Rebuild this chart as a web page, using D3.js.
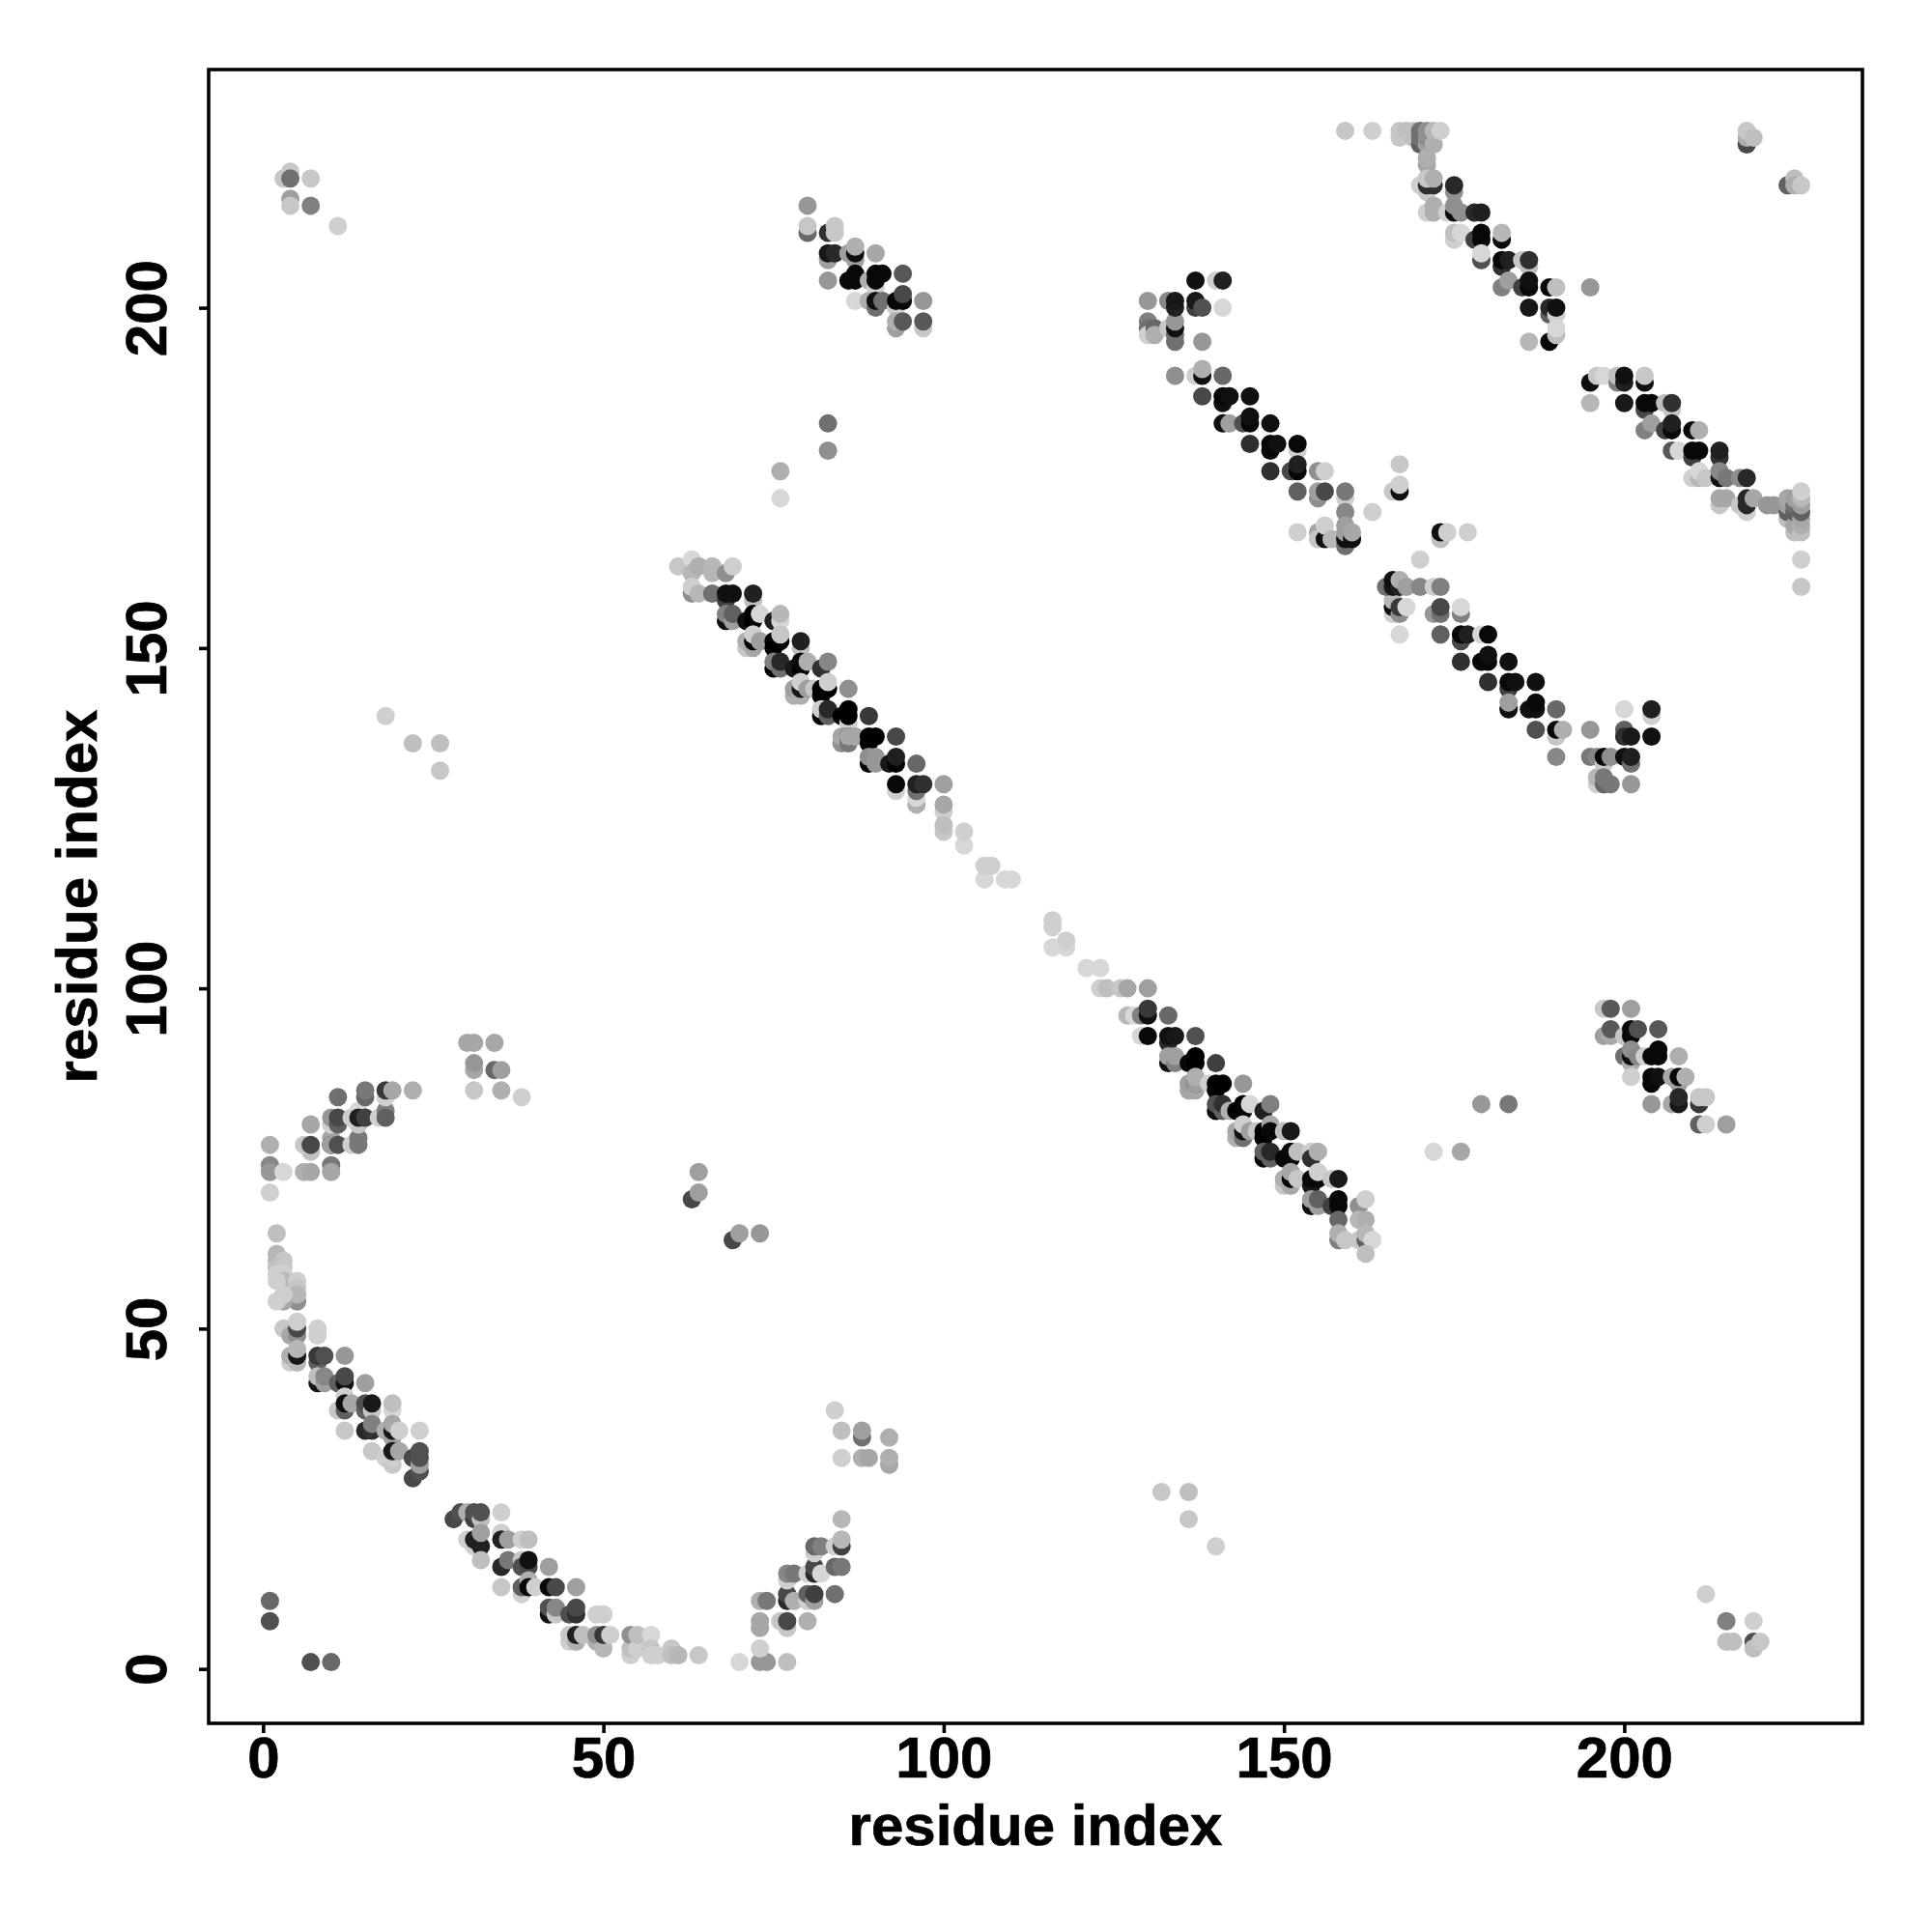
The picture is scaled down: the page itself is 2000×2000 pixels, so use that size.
<!DOCTYPE html>
<html><head><meta charset="utf-8"><title>Residue contact map</title>
<script src="https://cdn.jsdelivr.net/npm/d3@7/dist/d3.min.js"></script>
<style>html,body{margin:0;padding:0;background:#fff}svg{display:block}</style></head><body>
<div id="chart"></div>
<script>
// Every contact: [residue x, residue y, shade level 0 (black) .. 32 (white)]
const cornerTopLeft=[[3,219,25],[4,220,25],[4,219,14],[4,216,20],[4,215,25],[7,219,25],[7,215,16],[11,212,26]];
const sparseTopLeft=[[18,140,26],[22,136,24],[26,136,24],[26,132,25],[76,176,22],[76,172,27],[83,183,14],[83,179,18]];
const arcUpperLeft=[[1,70,26],[1,74,17],[1,73,19],[1,77,22],[10,74,15],[3,73,27],[6,73,22],[7,73,21],[10,73,21],[7,76,24],[6,77,25],[7,77,9],[7,80,21],
[10,78,21],[10,77,4],[10,77,20],[11,77,10],[13,77,26],[14,78,15],[14,77,15],[10,80,26],[10,81,19],[11,80,12],[11,81,9],[14,82,27],[14,80,25],[13,81,26],[14,81,4],[15,81,8],[17,81,26],[18,82,16],[18,81,12],
[11,84,14],[15,84,13],[15,85,15],[18,84,26],[18,85,7],[19,85,21],[22,85,22]];
const sparseMidLeft=[[30,92,21],[31,92,21],[34,92,21],[31,88,21],[31,89,19],[34,88,13],[35,88,20],[31,85,25],[35,85,22],[38,84,26],[64,73,20],[63,69,9],[64,70,20],[69,63,9],[70,64,20],[73,64,19]];
const arcLowerLeft=[[2,64,24],[2,61,23],[2,60,23],[3,60,25],[2,59,24],[3,59,25],[2,58,26],[3,58,26],[3,57,23],[2,57,26],[5,57,26],[5,56,25],[5,54,18],[5,55,23],[3,54,21],[2,54,26],[3,55,26],
[3,50,25],[4,49,21],[5,49,18],[5,50,9],[5,51,26],[8,49,26],[8,50,26],[4,45,26],[4,46,22],[5,45,23],[5,46,3],[5,47,23],[8,45,12],[8,46,7],[9,46,10],[12,46,19],
[8,42,3],[8,43,24],[9,42,20],[9,43,17],[11,42,12],[12,42,2],[12,43,9],[15,42,20],[12,40,26],[11,38,25],[12,38,12],[12,39,2],[13,39,21],[15,38,12],[15,39,10],[16,38,25],[16,39,3],[19,38,27],[19,39,24],
[12,35,25],[15,35,5],[16,35,6],[16,36,16],[18,35,22],[19,34,20],[19,35,3],[19,36,21],[20,35,26],[23,35,26],[16,32,25],[18,31,26],[19,30,25],[19,31,26],[19,32,3],[20,32,21],[22,28,9],[22,31,9],[23,29,10],[23,30,20],[23,31,10],[23,32,10]];
const arcBottom=[[28,22,9],[29,23,10],[30,23,22],[31,22,8],[31,23,10],[32,22,24],[32,23,10],[35,23,26],[30,19,26],[31,18,26],[31,19,4],[32,18,4],[32,20,20],[32,16,24],[35,20,26],[35,19,4],[36,19,20],[38,19,26],[39,19,24],
[35,15,5],[36,16,15],[38,16,25],[38,15,10],[39,15,9],[39,16,2],[42,15,20],[35,12,25],[38,11,26],[38,12,12],[39,13,22],[39,12,1],[40,12,26],[42,12,1],[43,12,9],[46,12,20],
[42,8,2],[42,9,10],[43,8,25],[43,9,17],[45,8,10],[46,8,6],[46,9,9],[49,8,26],[50,8,26],[45,4,26],[45,5,25],[46,4,22],[46,5,4],[47,5,24],[49,4,22],[49,5,18],[50,3,23],[50,5,7],[51,5,26],
[54,2,26],[54,3,24],[54,5,18],[55,3,26],[55,5,24],[57,5,27],[57,3,25],[57,2,26],[58,2,26],[60,3,25],[60,2,24],[61,2,23],[64,2,25],[70,1,27]];
const arcBottomRise=[[73,1,19],[74,1,19],[73,3,26],[77,1,24],[73,6,21],[73,7,21],[76,7,25],[77,6,25],[77,7,9],[80,7,22],[73,10,22],[74,10,15],[77,10,5],[77,11,9],[78,10,22],[80,10,26],[80,11,12],[81,10,20],[81,11,8],[84,11,14],
[77,13,26],[77,14,17],[78,14,15],[80,14,26],[81,14,5],[81,15,9],[82,14,27],[84,15,13],[85,15,15],[81,17,26],[81,18,13],[82,18,16],[84,18,26],[85,18,8],[85,19,23],[85,22,23]];
const sparseLowMid=[[84,38,26],[85,35,24],[88,34,14],[88,35,20],[92,34,22],[85,31,26],[88,31,22],[89,31,21],[92,30,21],[92,31,22],[132,26,25],[136,26,24],[136,22,25],[140,18,26]];
const strandTopMid=[[80,215,19],[80,211,13],[80,212,25],[83,211,6],[84,211,25],[84,212,25],[83,207,20],[83,208,3],[84,208,5],[86,208,20],[87,207,20],[87,208,2],[87,209,22],[90,208,21],
[83,204,19],[86,204,1],[87,204,1],[87,205,1],[89,204,22],[90,203,26],[90,204,1],[90,205,1],[91,205,1],[94,205,11],[87,201,27],[89,201,22],[90,200,14],[90,201,2],[91,201,14],[93,200,26],[93,201,1],[94,201,1],[94,202,9],[97,201,19],
[93,197,20],[93,198,22],[94,198,11],[97,197,25],[97,198,11]];
const strandCentreUpper=[[63,162,11],[61,162,25],[63,163,27],[63,161,23],[64,162,22],[66,161,23],[66,162,23],[68,161,18],[69,162,26],[63,158,18],[63,159,26],[64,158,23],[66,158,14],[68,157,8],[68,158,2],[69,158,2],[72,157,24],[72,158,4],
[68,154,2],[68,155,16],[69,154,20],[69,155,12],[71,154,2],[72,154,0],[72,155,0],[73,155,27],[75,154,4],[76,154,27],[76,155,23],[71,150,25],[71,151,22],[72,150,21],[72,151,0],[72,152,26],[73,151,20],[75,150,0],[75,151,0],[76,151,0],[76,152,25],[79,150,24],[79,151,4],
[75,147,0],[75,148,16],[76,147,14],[76,148,5],[78,147,3],[79,147,0],[79,148,1],[80,148,22],[82,147,6],[83,148,17],[78,143,22],[78,144,20],[79,143,22],[79,144,3],[79,145,26],[80,144,20],[81,144,25],[82,143,0],[82,144,0],[83,144,0],[83,145,26],[86,144,18],
[82,140,0],[82,141,26],[83,140,12],[83,141,5],[85,140,0],[86,139,26],[86,140,0],[86,141,0],[89,140,7],[85,136,18],[85,137,21],[86,136,15],[86,137,1],[86,137,21],[87,137,21],[89,136,0],[89,137,0],[90,137,0],[93,137,9],
[89,133,0],[89,134,18],[90,133,19],[90,134,19],[92,133,3],[93,133,0],[93,134,4],[96,133,13],[93,129,26],[93,130,1],[96,127,22],[96,128,27],[96,129,14],[96,130,4],[97,130,6],[100,130,20],[100,126,26],[100,127,21],[100,123,25],[100,124,24],[103,121,27],[103,123,26],[106,116,27],[106,118,26],[107,118,26],[109,116,27],[110,116,27]];
const strandCentreLower=[[116,109,26],[116,110,26],[116,106,27],[118,106,27],[118,107,26],[121,103,27],[123,103,27],[123,100,26],[124,100,24],[126,100,25],[127,100,21],[130,100,20],
[127,96,23],[128,96,27],[129,96,16],[130,96,2],[130,97,7],[133,96,13],[129,93,27],[130,93,1],[133,92,5],[133,93,2],[134,93,3],[137,93,10],[133,89,2],[133,90,20],[134,89,16],[134,90,20],[136,89,1],[137,89,0],[137,90,0],[140,89,8],
[136,85,21],[136,86,20],[137,85,21],[137,86,1],[137,86,20],[137,87,22],[139,86,26],[140,85,0],[140,86,0],[141,86,0],[144,86,19],[140,82,1],[140,83,10],[141,82,12],[141,83,6],[142,82,22],[143,82,0],[144,82,0],[144,83,0],[145,83,27],[147,82,4],[148,83,16],
[143,78,22],[143,79,21],[144,78,14],[144,79,2],[144,80,26],[145,79,20],[146,79,25],[147,78,0],[147,79,0],[148,80,21],[148,79,1],[150,79,24],[151,79,3],[147,75,1],[147,76,12],[148,75,12],[148,76,5],[150,75,1],[151,75,1],[151,76,1],[152,76,24],[154,76,26],[154,75,6],[155,76,22],
[150,71,25],[150,72,22],[151,71,21],[151,72,0],[151,73,21],[152,72,25],[154,71,3],[154,72,1],[155,72,1],[155,73,26],[157,72,25],[158,72,3],[154,68,2],[154,69,20],[155,68,20],[155,69,12],[157,68,8],[158,68,1],[158,69,1],[158,66,13],[161,68,18],[162,69,26],[161,66,23],[162,66,22],
[158,63,16],[158,64,22],[159,63,25],[161,63,25],[162,63,12],[162,64,23],[163,63,27],[162,61,24]];
const isolatedLowRight=[[172,76,27],[176,76,21],[179,83,19],[183,83,15],[1,7,10],[1,10,13],[7,1,10],[10,1,13],[212,11,26],[215,7,16],[215,4,24],[216,4,24],[219,7,26],[219,4,10],[219,3,24],[220,4,25]];
const patchRightLower=[[197,97,25],[198,97,11],[201,97,20],[197,93,20],[198,93,21],[198,94,11],[200,93,25],[201,93,1],[201,94,1],[202,94,10],[205,94,11],
[200,90,14],[201,89,22],[201,90,2],[201,91,18],[202,90,17],[203,90,26],[204,90,1],[205,90,1],[205,91,1],[208,90,22],[201,87,26],[204,86,1],[204,87,1],[205,87,2],[207,87,21],[208,86,20],[208,87,1],[209,87,22],
[204,83,19],[207,83,21],[208,83,3],[208,84,5],[211,83,7],[211,84,25],[212,84,25],[211,80,12],[212,80,26],[215,80,20]];
const strandUpperRight=[[130,198,16],[130,197,14],[130,196,26],[131,197,13],[131,196,22],[133,197,25],[134,195,14],[134,196,14],[134,197,2],[134,198,19],[138,195,19],[130,201,19],[133,201,17],[134,200,4],[134,201,3],[137,200,8],[137,201,3],[138,200,10],[141,200,27],[137,204,2],[140,204,26],[141,204,4],
[134,190,18],[137,190,26],[138,190,2],[138,191,22],[141,190,13],[138,187,9],[141,186,2],[141,187,1],[142,187,2],[145,187,2],[141,183,2],[142,183,20],[144,183,10],[145,183,1],[145,184,2],[148,183,2],[145,180,6],[148,179,1],[148,180,1],[149,180,2],[152,179,26],[152,180,1],
[148,176,6],[151,176,9],[152,176,1],[152,177,4],[155,176,18],[156,176,26],[152,173,12],[155,172,18],[155,173,20],[156,173,9],[159,172,26],[159,173,15],[159,170,17],[163,170,26],[166,173,25],[167,173,2],[167,174,26],[167,177,25],
[152,167,26],[155,167,21],[155,166,25],[156,166,2],[156,168,26],[157,166,23],[159,165,14],[159,166,2],[159,167,20],[159,168,20],[160,166,2],[160,167,21]];
const strandTopRight=[[159,226,25],[163,226,26],[167,225,25],[167,226,25],[168,226,24],[169,225,24],[169,226,24],[170,224,12],[170,225,14],[170,226,14],[171,224,20],[171,225,18],[171,226,18],[172,224,22],[172,226,23],[173,226,26],[171,221,21],[171,222,22],
[170,218,26],[171,217,25],[171,218,6],[172,218,6],[171,219,25],[172,219,22],[175,217,18],[175,218,5],[171,214,26],[172,214,22],[172,215,22],[174,214,26],[175,214,1],[175,215,18],[176,214,18],[178,214,5],[179,214,4],
[175,210,26],[175,211,24],[176,211,27],[178,210,8],[179,210,1],[179,211,1],[182,210,1],[182,211,23],[179,207,10],[179,208,27],[182,206,6],[182,207,1],[183,207,4],[185,207,25],[186,206,24],[186,207,6],
[182,203,16],[183,204,20],[185,203,8],[186,203,1],[186,204,2],[189,203,1],[190,203,24],[195,203,19],[186,200,3],[189,199,12],[189,200,5],[190,199,26],[190,200,2],[189,195,1],[190,196,24],[190,197,27],[186,195,23]];
const strandFarRight=[[195,189,2],[196,190,25],[197,190,27],[199,189,16],[199,190,24],[200,189,4],[200,190,2],[203,189,2],[203,190,25],[195,186,23],[200,186,3],[203,185,9],[203,186,1],[204,186,1],[206,186,24],[207,185,25],[207,186,6],
[203,182,16],[204,183,20],[206,182,8],[207,182,1],[207,183,4],[210,182,1],[211,182,22],[207,179,11],[208,179,27],[210,178,8],[210,179,1],[211,179,1],[214,178,6],[214,179,4],
[210,175,26],[211,175,23],[211,176,27],[212,175,25],[214,175,2],[214,176,17],[215,175,15],[217,175,18],[218,175,5],[214,171,25],[214,172,21],[215,172,21],[217,171,25],[218,170,26],[218,171,5],[218,172,5],[219,172,21],[221,171,19],[222,171,19],
[224,169,24],[224,170,12],[224,171,20],[224,172,21],[225,167,24],[225,168,21],[225,170,12],[225,171,14],[225,172,20],[226,167,24],[226,168,22],[226,169,21],[226,170,12],[226,171,20],[226,172,23],[226,173,26],[226,163,26],[226,159,25]];
const sparseTopRight=[[218,224,9],[218,225,22],[218,226,25],[219,225,24],[224,218,12],[225,219,24],[225,218,22],[226,218,25]];
const strandMidRight=[[167,152,27],[166,155,26],[166,156,2],[166,157,23],[167,155,18],[167,156,7],[168,156,27],[172,155,19],[173,155,14],[173,156,9],[176,155,16],[176,156,27],
[165,159,14],[166,159,3],[166,160,2],[167,159,4],[167,160,22],[168,159,20],[170,159,17],[172,159,26],[173,159,16],[170,163,26],[173,166,24],[173,167,2],[174,167,26],[177,167,26],
[173,152,12],[176,151,9],[176,152,1],[177,152,4],[179,152,27],[180,152,1],[176,148,6],[179,148,1],[180,148,1],[180,149,2],[183,148,2],[180,145,6],[183,144,8],[183,145,1],[184,145,2],[187,145,2],
[183,141,2],[183,142,20],[186,141,2],[187,141,2],[187,142,1],[190,141,13],[187,138,10],[190,137,25],[190,138,1],[191,138,22],[195,138,19],
[190,134,17],[195,134,15],[196,134,17],[197,133,25],[197,134,1],[198,134,18],[200,134,2],[201,133,14],[201,134,4],[196,130,26],[196,131,23],[197,130,13],[197,131,15],[198,130,15],[201,130,19],
[200,138,12],[200,137,6],[201,137,3],[204,137,2],[200,141,27],[204,140,26],[204,141,4]];

const clusters=[cornerTopLeft,sparseTopLeft,arcUpperLeft,sparseMidLeft,arcLowerLeft,arcBottom,arcBottomRise,sparseLowMid,strandTopMid,strandCentreUpper,strandCentreLower,isolatedLowRight,patchRightLower,strandUpperRight,strandTopRight,strandFarRight,sparseTopRight,strandMidRight];
const tickValues=[0,50,100,150,200];
const axisLabel="residue index";
const domainLimits=[-8,235];

const svg=d3.select("#chart").append("svg").attr("width",2000).attr("height",2000);
const plotLeft=216,plotRight=1928,plotTop=72,plotBottom=1784;
const x=d3.scaleLinear().domain(domainLimits).range([plotLeft,plotRight]);
const y=d3.scaleLinear().domain(domainLimits).range([plotBottom,plotTop]);
const shade=d3.scaleLinear().domain([0,32]).range(["#000000","#ffffff"]);
const font='"Liberation Sans",Arial,sans-serif';
const styleText=s=>s.attr("font-family",font).attr("font-weight","bold").attr("font-size",60).attr("fill","#000").attr("stroke","#000").attr("stroke-width",0.7);

svg.append("g").selectAll("circle").data(clusters.flat()).join("circle")
 .attr("cx",d=>x(d[0])).attr("cy",d=>y(d[1])).attr("r",9.5).attr("fill",d=>shade(d[2]));

svg.append("rect").attr("x",plotLeft).attr("y",plotTop).attr("width",plotRight-plotLeft).attr("height",plotBottom-plotTop)
 .attr("fill","none").attr("stroke","#000").attr("stroke-width",3.6);

const gx=svg.append("g").attr("transform",`translate(0,${plotBottom})`).call(d3.axisBottom(x).tickValues(tickValues).tickSize(10).tickFormat(d3.format("d")));
const gy=svg.append("g").attr("transform",`translate(${plotLeft},0)`).call(d3.axisLeft(y).tickValues(tickValues).tickSize(10).tickFormat(d3.format("d")));
[gx,gy].forEach(g=>{g.select(".domain").remove();g.selectAll("line").attr("stroke","#000").attr("stroke-width",3.6);});
gx.selectAll("text").call(styleText).attr("y",56).attr("dy",0);
gy.selectAll("text").call(styleText)
 .attr("text-anchor","middle").attr("x",0).attr("dy",0)
 .attr("transform","translate(-44,0) rotate(-90)");

svg.append("text").attr("x",(plotLeft+plotRight)/2).attr("y",1910).attr("text-anchor","middle").call(styleText).text(axisLabel);
svg.append("text").attr("transform",`translate(100,${(plotTop+plotBottom)/2}) rotate(-90)`).attr("text-anchor","middle").call(styleText).text(axisLabel);
</script></body></html>
